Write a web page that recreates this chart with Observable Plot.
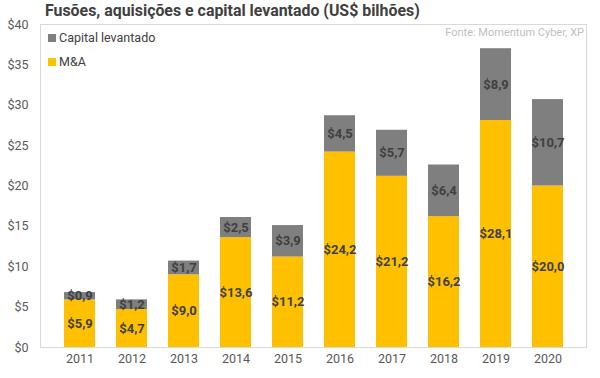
<!DOCTYPE html>
<html>
<head>
<meta charset="utf-8">
<script src="https://cdn.jsdelivr.net/npm/d3@7"></script>
<script src="https://cdn.jsdelivr.net/npm/@observablehq/plot@0.6"></script>
<style>
  html, body { margin: 0; padding: 0; background: #fff; }
  #wrap { position: relative; width: 600px; height: 378px; font-family: Roboto, sans-serif; }
  #title { position: absolute; left: 45px; top: 1px; font-size: 15.9px; font-weight: 700; color: #404040; white-space: nowrap; }
  #source { position: absolute; right: 16px; top: 26px; font-size: 11px; color: #bfbfbf; }
  .leg { position: absolute; left: 48px; font-size: 12.5px; color: #404040; display: flex; align-items: center; }
  .sw { width: 8px; height: 8px; margin-right: 3px; display: inline-block; }
</style>
</head>
<body>
<div id="wrap">
  <div id="chart"></div>
  <div id="title">Fusões, aquisições e capital levantado (US$ bilhões)</div>
  <div id="source">Fonte: Momentum Cyber, XP</div>
  <div class="leg" style="top:30px"><span class="sw" style="background:#7f7f7f"></span>Capital levantado</div>
  <div class="leg" style="top:54px"><span class="sw" style="background:#ffc000"></span>M&amp;A</div>
</div>
<script>
const years = ["2011","2012","2013","2014","2015","2016","2017","2018","2019","2020"];
const mna = [5.9, 4.7, 9.0, 13.6, 11.2, 24.2, 21.2, 16.2, 28.1, 20.0];
const capital = [0.9, 1.2, 1.7, 2.5, 3.9, 4.5, 5.7, 6.4, 8.9, 10.7];
const series = ["M&A", "Capital levantado"];
const colors = ["#ffc000", "#7f7f7f"];
const yTicks = [0, 5, 10, 15, 20, 25, 30, 35, 40];

const data = [];
years.forEach((y, i) => {
  data.push({year: y, series: series[0], value: mna[i]});
  data.push({year: y, series: series[1], value: capital[i]});
});
const fmt = v => "$" + v.toFixed(1).replace(".", ",");

const chart = Plot.plot({
  width: 600,
  height: 378,
  marginLeft: 40,
  marginRight: 14,
  marginTop: 24,
  marginBottom: 31,
  style: {fontFamily: "Roboto, sans-serif", fontSize: "12.5px", color: "#595959", background: "#fff"},
  x: {domain: years, padding: 0.41, label: null, tickSize: 0, tickPadding: 7},
  y: {domain: [0, 40], ticks: yTicks, tickFormat: d => "$" + d, label: null, tickSize: 0, tickPadding: 12},
  color: {domain: series, range: colors},
  marks: [
    Plot.frame({stroke: "#d9d9d9"}),
    Plot.barY(data, Plot.stackY({x: "year", y: "value", fill: "series", order: null})),
    Plot.text(data, Plot.stackY({x: "year", y: "value", z: "series", order: null, text: d => fmt(d.value), fill: "#404040", fontWeight: 700, fontSize: 13})),
    Plot.ruleY([0], {stroke: "#d9d9d9"})
  ]
});
document.getElementById("chart").appendChild(chart);
</script>
</body>
</html>
